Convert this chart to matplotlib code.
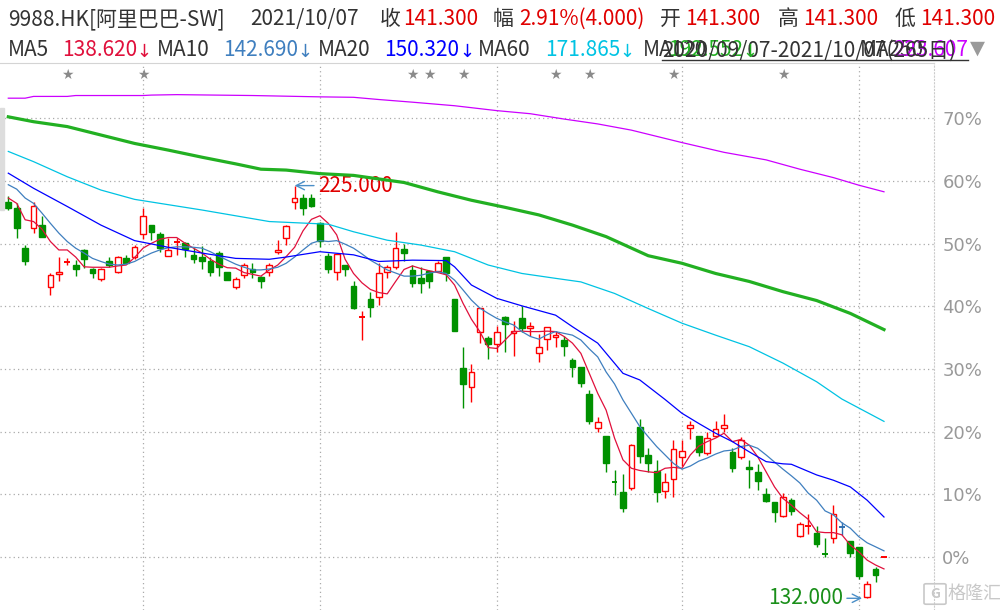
import matplotlib
matplotlib.use('Agg')
import matplotlib.pyplot as plt
import matplotlib.transforms as mtransforms
from matplotlib.patches import Rectangle, FancyBboxPatch
from matplotlib.lines import Line2D

plt.rcParams['font.family'] = ['Noto Sans CJK SC', 'DejaVu Sans']

# daily candles, 9988.HK (oldest first)
opens = [221.4, 219.9, 210.9, 215.4, 216.1, 202.2, 205.0, 207.6, 207.1, 210.5,
         206.2, 203.9, 208.1, 205.6, 208.6, 208.8, 214.1, 216.1, 214.1, 209.2,
         212.1, 212.0, 209.4, 209.0, 208.1, 209.8, 205.5, 202.2, 204.8, 206.3,
         204.3, 205.6, 210.0, 213.3, 221.3, 222.2, 222.2, 216.5, 209.2, 205.5,
         207.1, 202.4, 195.4, 199.4, 199.8, 205.5, 206.7, 210.7, 206.0, 204.1,
         205.8, 205.8, 208.9, 199.4, 183.8, 179.7, 192.1, 190.6, 189.3, 195.5,
         191.7, 195.1, 192.8, 187.2, 190.4, 190.8, 190.2, 185.7, 184.1, 178.0,
         170.3, 168.6, 158.3, 155.9, 156.8, 170.7, 164.3, 160.7, 156.2, 158.8,
         163.8, 170.3, 168.6, 164.7, 168.6, 170.3, 165.0, 163.9, 161.5, 160.5,
         155.5, 153.8, 150.6, 154.2, 146.1, 148.1, 146.6, 142.1, 145.5, 148.1,
         144.9, 143.6, 132.2, 138.5, 141.3]
highs = [222.7, 221.0, 211.6, 221.3, 218.2, 205.4, 208.9, 208.6, 208.2, 210.8,
         206.4, 206.5, 208.9, 209.2, 209.4, 211.6, 219.9, 216.1, 214.6, 213.3,
         213.3, 212.4, 210.9, 211.4, 208.9, 210.3, 205.5, 204.5, 207.6, 207.6,
         204.6, 207.5, 212.8, 216.1, 225.0, 223.1, 223.1, 216.9, 209.8, 209.8,
         207.1, 203.5, 196.8, 201.1, 207.5, 207.1, 214.5, 211.9, 207.0, 206.6,
         206.0, 207.9, 209.0, 199.4, 188.7, 184.7, 197.4, 191.0, 193.4, 195.7,
         194.6, 197.9, 194.3, 191.6, 193.2, 192.2, 191.2, 186.1, 184.2, 178.9,
         172.8, 168.6, 160.8, 159.9, 166.8, 172.3, 165.8, 163.2, 160.2, 167.7,
         167.7, 172.0, 168.6, 169.5, 172.0, 173.5, 165.8, 168.3, 163.2, 162.3,
         156.8, 153.8, 155.8, 154.5, 149.3, 150.9, 148.4, 145.5, 153.0, 149.3,
         144.9, 143.6, 135.9, 139.1, 141.3]
lows = [219.4, 213.1, 207.1, 214.4, 213.5, 200.4, 203.6, 207.0, 204.6, 206.4,
        204.1, 203.6, 206.7, 205.2, 207.3, 208.4, 212.9, 212.8, 210.0, 209.2,
        209.4, 209.0, 207.6, 206.3, 204.6, 204.6, 203.7, 201.6, 204.1, 204.1,
        202.0, 204.6, 209.6, 211.6, 219.7, 218.4, 220.1, 211.1, 205.4, 203.7,
        204.6, 197.3, 190.1, 195.5, 198.0, 204.1, 206.2, 208.1, 202.2, 200.7,
        201.9, 205.6, 203.6, 192.3, 174.8, 176.3, 189.6, 185.9, 187.4, 187.4,
        186.7, 192.0, 191.0, 185.3, 188.0, 188.7, 186.7, 181.9, 179.7, 171.3,
        169.5, 160.5, 155.3, 151.4, 156.4, 162.6, 160.5, 153.8, 154.5, 154.9,
        161.7, 167.8, 164.1, 164.3, 168.3, 169.5, 160.5, 163.5, 156.9, 156.4,
        153.8, 149.3, 150.4, 150.8, 145.7, 146.5, 143.6, 141.2, 144.4, 146.3,
        141.2, 136.3, 132.0, 135.7, 141.3]
closes = [220.0, 215.4, 207.9, 220.4, 213.5, 204.9, 205.5, 207.8, 206.3, 208.4,
          205.4, 206.2, 207.1, 208.9, 207.5, 211.1, 218.2, 214.6, 210.9, 210.5,
          212.4, 210.7, 208.4, 207.9, 205.5, 206.7, 203.7, 203.9, 207.0, 205.6,
          203.5, 207.2, 210.5, 215.8, 222.2, 219.9, 220.4, 212.5, 206.2, 209.6,
          206.1, 197.5, 195.6, 197.7, 205.2, 206.6, 210.9, 209.8, 203.0, 203.1,
          203.4, 207.5, 205.4, 192.3, 180.2, 183.1, 197.4, 189.2, 191.9, 193.8,
          192.2, 192.9, 193.4, 188.7, 193.1, 191.3, 188.9, 184.2, 180.6, 172.0,
          171.7, 162.4, 158.0, 152.3, 166.5, 164.1, 162.4, 156.0, 158.1, 165.6,
          165.2, 171.1, 165.0, 168.1, 170.1, 171.0, 161.3, 167.7, 161.1, 158.5,
          154.0, 151.4, 154.8, 151.7, 148.7, 148.4, 144.2, 141.9, 150.9, 148.1,
          142.3, 137.0, 135.2, 137.3, 141.3]

# moving averages
ma5 = [222.2, 221.0, 217.3, 216.9, 215.2, 212.4, 210.5, 210.5, 208.9, 206.7,
       206.6, 206.6, 206.6, 206.9, 207.1, 208.8, 210.9, 212.0, 212.9, 213.3,
       213.3, 212.0, 210.9, 209.8, 208.4, 207.3, 206.5, 206.4, 205.4, 205.0,
       204.6, 206.0, 207.1, 209.0, 211.1, 214.8, 217.4, 218.2, 216.5, 213.9,
       208.4, 205.2, 203.1, 201.6, 200.9, 200.6, 203.4, 206.1, 206.9, 206.3,
       205.8, 205.4, 204.9, 202.6, 198.5, 194.9, 192.1, 188.5, 188.3, 190.2,
       192.1, 192.2, 192.1, 192.1, 192.2, 192.1, 191.0, 189.5, 187.2, 182.7,
       178.2, 174.4, 168.1, 163.2, 161.3, 160.8, 160.5, 160.3, 161.3, 161.5,
       161.3, 164.3, 166.3, 167.3, 168.1, 169.2, 167.3, 167.8, 166.5, 163.9,
       160.5, 157.1, 154.5, 153.0, 151.3, 149.8, 147.0, 146.8, 146.8, 146.3,
       144.0, 142.5, 140.6, 139.5, 138.62]
ma10 = [225.2, 224.2, 222.2, 221.0, 218.8, 216.5, 214.3, 212.4, 210.9, 209.8,
        208.6, 207.9, 207.3, 207.1, 207.3, 207.9, 208.9, 209.8, 210.5, 211.0,
        211.2, 211.2, 211.1, 210.9, 210.1, 209.1, 208.2, 207.3, 206.6, 206.0,
        206.0, 206.2, 206.6, 207.5, 208.9, 210.5, 212.0, 212.6, 212.4, 212.6,
        211.8, 210.9, 209.6, 208.2, 207.1, 206.0, 205.3, 204.6, 204.6, 204.8,
        205.3, 205.6, 205.2, 203.7, 201.5, 199.2, 197.4, 196.2, 195.1, 194.3,
        193.6, 192.1, 191.0, 190.4, 191.4, 192.1, 191.7, 191.3, 190.2, 188.2,
        186.4, 183.0, 180.3, 176.7, 173.7, 170.7, 168.4, 166.2, 164.3, 162.4,
        161.1, 161.8, 162.9, 163.6, 164.5, 165.2, 165.4, 166.2, 166.5, 165.8,
        164.3, 162.7, 161.1, 159.6, 158.0, 155.7, 154.1, 151.7, 150.8, 149.0,
        147.8, 145.9, 144.5, 143.6, 142.69]
ma20_idx = [0, 3, 7, 11, 15, 19, 23, 27, 31, 33, 37, 41, 44, 48, 52, 53, 55, 58,
            61, 65, 67, 70, 73, 75, 78, 80, 82, 84, 86, 88, 90, 92, 93, 96, 98,
            100, 102, 104]
ma20 = [227.8, 224.4, 220.3, 216.1, 212.6, 211.1, 209.8, 208.6, 208.4, 208.9,
        210.1, 209.4, 207.9, 208.2, 208.1, 206.7, 202.6, 199.6, 197.9, 195.8,
        193.2, 189.5, 182.7, 181.2, 176.8, 173.7, 171.4, 169.2, 167.3, 165.0,
        162.8, 162.3, 162.2, 159.8, 158.6, 157.1, 154.1, 150.32]
ma60_idx = [0, 3, 7, 11, 15, 23, 31, 38, 41, 45, 49, 53, 57, 61, 65, 68, 72, 76,
            80, 84, 88, 92, 96, 99, 104]
ma60 = [232.7, 230.4, 227.0, 224.0, 221.9, 219.5, 216.9, 216.3, 214.6, 212.7,
        211.6, 210.1, 207.1, 205.2, 204.1, 203.3, 200.7, 197.3, 194.0, 191.3,
        188.7, 185.0, 180.8, 176.9, 171.865]
ma120_idx = [0, 3, 7, 11, 15, 19, 23, 27, 30, 33, 37, 41, 47, 51, 55, 59, 63, 67,
             71, 76, 80, 84, 88, 92, 96, 100, 104]
ma120 = [240.5, 239.4, 238.3, 236.4, 234.5, 233.0, 231.4, 229.9, 228.7, 228.5,
         227.7, 227.3, 225.7, 223.6, 221.7, 220.1, 218.4, 216.1, 213.5, 209.2,
         207.5, 205.2, 203.4, 201.1, 199.1, 196.2, 192.552]
ma250_idx = [0, 2, 3, 7, 8, 16, 17, 20, 29, 37, 41, 44, 48, 53, 58, 62, 66, 70,
             74, 80, 85, 90, 94, 98, 101, 104]
ma250 = [244.7, 244.7, 245.1, 245.1, 245.3, 245.3, 245.4, 245.5, 245.3, 245.0,
         244.9, 244.4, 243.8, 243.0, 241.9, 241.2, 240.0, 238.9, 237.5, 234.7,
         232.5, 230.8, 228.7, 226.8, 225.1, 223.607]

base_price = 141.3           # 0% reference (latest close)
pct_ticks = [0, 10, 20, 30, 40, 50, 60, 70]
month_idx = [16, 37, 58, 80, 101]
star_idx = [7, 16, 48, 50, 54, 65, 69, 79, 92]
high_idx, low_idx = 34, 102

UP, DOWN, FLAT = '#ff0000', '#009100', '#2f6fb0'
DARK = '#333333'
PRICE_RED = '#e00000'
ma_colors = {'MA5': '#e0103c', 'MA10': '#3f7fbf', 'MA20': '#0000ff',
             'MA60': '#00c3e3', 'MA120': '#22b022', 'MA250': '#cc00ff'}

fig = plt.figure(figsize=(10, 6.1), dpi=100)
ax = fig.add_axes([0, 0, 0.934, 547 / 610])
ax.set_xlim(-0.986, 109.94)
ax.set_ylim(129.36, 252.63)

# grid
yt = [base_price * (1 + p / 100) for p in pct_ticks]
ax.set_yticks(yt)
ax.set_yticklabels([f'{p}%' for p in pct_ticks], family='DejaVu Sans')
ax.yaxis.tick_right()
ax.tick_params(axis='y', length=0, pad=6, labelsize=13, labelcolor='#999999')
ax.set_xticks([])
ax.grid(axis='y', ls=(0, (1, 2.5)), color='#aaaaaa', lw=0.9)
for m in month_idx:
    ax.axvline(m, ls=(0, (1, 2.5)), color='#aaaaaa', lw=0.9, zorder=0)
for s in ['left', 'bottom']:
    ax.spines[s].set_visible(False)
ax.spines['top'].set_color('#d4d4d4')
ax.spines['top'].set_linewidth(0.8)
ax.spines['right'].set_color('#cccccc')
ax.spines['right'].set_linestyle((0, (1, 2)))
ax.spines['right'].set_linewidth(0.8)

# candles
w = 0.68
for i, (o, h, l, c) in enumerate(zip(opens, highs, lows, closes)):
    if c > o or (c == o and h == l):
        col = UP
    elif c < o:
        col = DOWN
    else:
        col = FLAT
    ax.vlines(i, l, h, color=col, lw=1, zorder=3)
    if abs(c - o) < 0.35:
        ax.hlines((o + c) / 2, i - w / 2, i + w / 2, color=col, lw=1.4, zorder=4)
    else:
        face = 'white' if c > o else col
        ax.add_patch(Rectangle((i - w / 2, min(o, c)), w, abs(c - o),
                               facecolor=face, edgecolor=col, lw=1, zorder=4))

# moving averages
n = len(closes)
ax.plot(range(n), ma5, color=ma_colors['MA5'], lw=0.9, zorder=5)
ax.plot(range(n), ma10, color=ma_colors['MA10'], lw=0.9, zorder=5)
ax.plot(ma20_idx, ma20, color=ma_colors['MA20'], lw=0.9, zorder=5)
ax.plot(ma60_idx, ma60, color=ma_colors['MA60'], lw=0.9, zorder=5)
ax.plot(ma120_idx, ma120, color=ma_colors['MA120'], lw=2.3, zorder=5)
ax.plot(ma250_idx, ma250, color=ma_colors['MA250'], lw=0.9, zorder=5)

# event stars
trans = mtransforms.blended_transform_factory(ax.transData, ax.transAxes)
for s in star_idx:
    ax.text(s, (610 - 75) / 547, '★', transform=trans, ha='center', va='center',
            fontsize=10, color='#8a8a8a', family='DejaVu Sans')

# high / low markers
arrow_c = '#4b8fc8'
ax.annotate(f'{highs[high_idx]:.3f}', xy=(high_idx, highs[high_idx]),
            xytext=(high_idx + 2.8, highs[high_idx]), ha='left', va='center',
            fontsize=15, color=PRICE_RED,
            arrowprops=dict(arrowstyle='->', color=arrow_c, lw=1,
                            shrinkA=1, shrinkB=0))
ax.annotate(f'{lows[low_idx]:.3f}', xy=(low_idx - 0.6, lows[low_idx]),
            xytext=(low_idx - 2.9, lows[low_idx]), ha='right', va='center',
            fontsize=15, color='#1a8f1a',
            arrowprops=dict(arrowstyle='->', color=arrow_c, lw=1,
                            shrinkA=1, shrinkB=0))


def px(x, y):
    return x / 1000, 1 - y / 610


# header line 1
line1 = [(8, '9988.HK[阿里巴巴-SW]', DARK), (250, '2021/10/07', DARK),
         (380, '收', DARK), (403, '141.300', PRICE_RED),
         (493, '幅', DARK), (519, '2.91%(4.000)', PRICE_RED),
         (660, '开', DARK), (685, '141.300', PRICE_RED),
         (778, '高', DARK), (803, '141.300', PRICE_RED),
         (895, '低', DARK), (920, '141.300', PRICE_RED)]
for x, t, c in line1:
    fig.text(*px(x, 25), t, color=c, fontsize=15, va='baseline', ha='left')

# header line 2: name, value, trend arrow
line2 = [(8, 'MA5', DARK), (62, '138.620', ma_colors['MA5']),
         (157, 'MA10', DARK), (223, '142.690', ma_colors['MA10']),
         (318, 'MA20', DARK), (384, '150.320', ma_colors['MA20']),
         (478, 'MA60', DARK), (545, '171.865', ma_colors['MA60']),
         (643, 'MA120', DARK), (668, '192.552', ma_colors['MA120']),
         (860, 'MA250', DARK), (893, '223.607', ma_colors['MA250']),
         (662, '2020/09/07-2021/10/07(265日)', DARK)]
for x, t, c in line2:
    fig.text(*px(x, 56.5), t, color=c, fontsize=15, va='baseline', ha='left')
arrows2 = [(136, 'MA5'), (297, 'MA10'), (459, 'MA20'), (619, 'MA60'), (742, 'MA120')]
for x, k in arrows2:
    fig.text(*px(x, 56.5), '↓', color=ma_colors[k], fontsize=13, va='baseline',
             ha='left', family='DejaVu Sans')
fig.add_artist(Line2D([662 / 1000, 968 / 1000], [1 - 59.5 / 610, 1 - 59.5 / 610],
                      color=DARK, lw=1))
fig.text(*px(977, 48), '▼', color='#9a9a9a', fontsize=14, ha='center', va='center',
         family='DejaVu Sans')

# scrollbar strip and watermark
fig.add_artist(Rectangle((0, 1 - 210 / 610), 4 / 1000, 102 / 610,
                         transform=fig.transFigure, color='#dddddd'))
fig.add_artist(FancyBboxPatch((926 / 1000, 1 - 603 / 610), 18 / 1000, 18 / 610,
                              boxstyle='round,pad=0.002', transform=fig.transFigure,
                              facecolor='none', edgecolor='#c8c8c8', lw=1.2))
fig.text(*px(935, 594), 'G', color='#c8c8c8', fontsize=10, ha='center', va='center',
         fontweight='bold')
fig.text(*px(948, 594), '格隆汇', color='#c8c8c8', fontsize=13, ha='left', va='center')

fig.savefig('out.png', dpi=100)
